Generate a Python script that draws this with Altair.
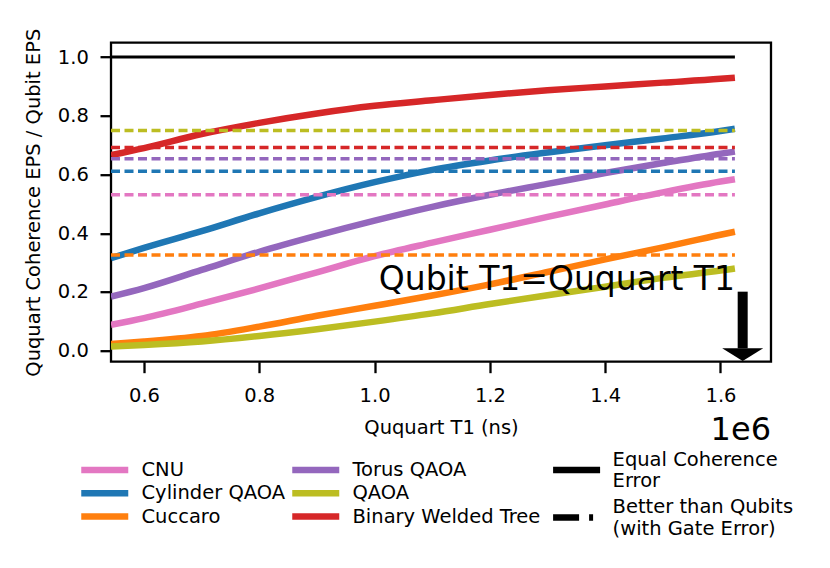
import altair as alt
import pandas as pd

# ---------------- data ----------------
# Ququart T1 sample points, in units of 1e6 ns
t1_points = [0.5428, 0.6, 0.7, 0.8, 0.9, 1.0, 1.1, 1.2, 1.3, 1.4, 1.5, 1.6, 1.625]

series_names = ["CNU", "Cylinder QAOA", "Cuccaro", "Torus QAOA", "QAOA", "Binary Welded Tree"]
series_colors = ["#e377c2", "#1f77b4", "#ff7f0e", "#9467bd", "#bcbd22", "#d62728"]
cnu = [0.088, 0.111, 0.160, 0.212, 0.267, 0.322, 0.368, 0.412, 0.456, 0.498, 0.539, 0.576, 0.584]
cylinder = [0.315, 0.350, 0.407, 0.468, 0.524, 0.574, 0.616, 0.648, 0.675, 0.700, 0.723, 0.748, 0.756]
cuccaro = [0.023, 0.031, 0.050, 0.082, 0.119, 0.153, 0.188, 0.226, 0.268, 0.311, 0.352, 0.395, 0.405]
torus = [0.184, 0.213, 0.275, 0.337, 0.392, 0.443, 0.490, 0.531, 0.568, 0.605, 0.639, 0.671, 0.678]
qaoa = [0.014, 0.019, 0.031, 0.050, 0.073, 0.099, 0.127, 0.159, 0.189, 0.218, 0.248, 0.273, 0.280]
bwt = [0.666, 0.690, 0.738, 0.776, 0.808, 0.834, 0.853, 0.871, 0.887, 0.900, 0.913, 0.926, 0.930]
series_values = [cnu, cylinder, cuccaro, torus, qaoa, bwt]

# "Better than Qubits (with Gate Error)" thresholds (dashed lines)
gate_thresholds = [0.531, 0.611, 0.326, 0.654, 0.750, 0.692]

equal_level = 1.0
ref_kinds = ["Equal Coherence Error", "Better than Qubits (with Gate Error)"]

x_ticks = [0.6, 0.8, 1.0, 1.2, 1.4, 1.6]
y_ticks = [0.0, 0.2, 0.4, 0.6, 0.8, 1.0]
x_domain = [0.5428, 1.6876]
y_domain = [-0.0375, 1.049]

annotation_text = "Qubit T1=Ququart T1"
annotation_pos = (1.6252, 0.207)
arrow_x = 1.6385
arrow_top = 0.201
arrow_shaft_end = 0.008
arrow_head_y = -0.0136
offset_text = "1e6"

SCALE = 1e6
FONT = "DejaVu Sans"
FS = 19.5

# ---------------- tables ----------------
curve_rows = []
for name, vals in zip(series_names, series_values):
    for x, v in zip(t1_points, vals):
        curve_rows.append({"t1": x * SCALE, "ratio": v, "series": name})
curves_df = pd.DataFrame(curve_rows)

dash_df = pd.DataFrame({
    "series": series_names,
    "ratio": gate_thresholds,
    "x0": [t1_points[0] * SCALE] * len(series_names),
    "x1": [t1_points[-1] * SCALE] * len(series_names),
})

equal_df = pd.DataFrame({
    "kind": [ref_kinds[0]],
    "ratio": [equal_level],
    "x0": [t1_points[0] * SCALE],
    "x1": [t1_points[-1] * SCALE],
})

ann_df = pd.DataFrame({"t1": [annotation_pos[0] * SCALE], "ratio": [annotation_pos[1]],
                       "label": [annotation_text]})
arrow_df = pd.DataFrame({"t1": [arrow_x * SCALE], "top": [arrow_top], "end": [arrow_shaft_end],
                         "head": [arrow_head_y]})
offset_df = pd.DataFrame({"t1": [x_domain[1] * SCALE], "ratio": [y_domain[0]], "label": [offset_text]})

# ---------------- scales / axes ----------------
x_scale = alt.Scale(domain=[x_domain[0] * SCALE, x_domain[1] * SCALE], nice=False, zero=False)
y_scale = alt.Scale(domain=y_domain, nice=False, zero=False)

x_axis = alt.Axis(
    values=[v * SCALE for v in x_ticks],
    labelExpr="format(datum.value / 1000000, '.1f')",
    title="Ququart T1 (ns)",
    labelPadding=13.5,
    titleBaseline="alphabetic",
    titleY=72.3,
    titleX=330,
    titleAlign="center",
)
y_axis = alt.Axis(
    values=y_ticks,
    format=".1f",
    title="Ququart Coherence EPS / Qubit EPS",
    labelPadding=11.7,
    titleAngle=270,
    titleBaseline="alphabetic",
    titleAlign="center",
    titleX=-72,
    titleY=159.5,
)

color_scale = alt.Scale(domain=series_names, range=series_colors)

curves = alt.Chart(curves_df).mark_line(strokeWidth=6.5, clip=True, interpolate="monotone").encode(
    x=alt.X("t1:Q", scale=x_scale, axis=x_axis),
    y=alt.Y("ratio:Q", scale=y_scale, axis=y_axis),
    color=alt.Color(
        "series:N",
        scale=color_scale,
        sort=series_names,
        legend=alt.Legend(
            title=None,
            orient="none",
            legendX=-33.25,
            legendY=417.3,
            columns=2,
            columnPadding=3,
            rowPadding=3.3,
            clipHeight=20,
            padding=0,
            symbolType="stroke",
            symbolSize=2209,
            symbolStrokeWidth=6.5,
            labelOffset=9.75,
            labelFont=FONT,
            labelFontSize=FS,
            labelColor="black",
            labelLimit=0,
        ),
    ),
)

dashes = alt.Chart(dash_df).mark_rule(strokeWidth=3.5, strokeDash=[9, 4.5]).encode(
    x="x0:Q",
    x2="x1:Q",
    y="ratio:Q",
    color=alt.Color("series:N", scale=color_scale, legend=None),
)

equal_line = alt.Chart(equal_df).mark_rule(color="black").encode(
    x="x0:Q",
    x2="x1:Q",
    y="ratio:Q",
    strokeWidth=alt.value(3),
    strokeDash=alt.StrokeDash(
        "kind:N",
        scale=alt.Scale(domain=ref_kinds, range=[[1, 0], [26, 10, 4, 10]]),
        legend=alt.Legend(
            title=None,
            orient="none",
            legendX=438.6,
            legendY=405.3,
            columns=1,
            rowPadding=3.5,
            clipHeight=44,
            padding=0,
            symbolType="stroke",
            symbolSize=2209,
            symbolStrokeWidth=6.5,
            symbolStrokeColor="black",
            labelOffset=9,
            labelBaseline="bottom",
            labelFont=FONT,
            labelFontSize=FS,
            labelColor="black",
            labelLimit=0,
            labelExpr="datum.value == 'Equal Coherence Error' ? ['Equal Coherence', 'Error'] : ['Better than Qubits', '(with Gate Error)']",
        ),
    ),
)

annotation = alt.Chart(ann_df).mark_text(
    align="right", baseline="alphabetic", font=FONT, fontSize=33, color="black"
).encode(x="t1:Q", y="ratio:Q", text="label:N")

arrow_shaft = alt.Chart(arrow_df).mark_rule(color="black", strokeWidth=10, strokeCap="butt").encode(
    x="t1:Q", y="top:Q", y2="end:Q"
)

arrow_head = alt.Chart(arrow_df).mark_point(
    shape="M-1,-0.31L1,-0.31L0,0.31Z", filled=True, color="black", opacity=1, size=1681, clip=False
).encode(x="t1:Q", y="head:Q")

offset_label = alt.Chart(offset_df).mark_text(
    align="right", baseline="alphabetic", font=FONT, fontSize=32, color="black", dy=78.3, clip=False
).encode(x="t1:Q", y="ratio:Q", text="label:N")

chart = alt.layer(
    curves, dashes, equal_line, annotation, arrow_shaft, arrow_head, offset_label
).properties(
    width=660,
    height=319,
    autosize=alt.AutoSizeParams(type="none"),
    padding={"left": 103, "top": 34.7, "right": 40, "bottom": 200},
    background="white",
).configure_view(
    stroke="black", strokeWidth=2.3
).configure_axis(
    domain=False,
    grid=False,
    tickColor="black",
    tickWidth=2.3,
    tickSize=11,
    labelFont=FONT,
    labelFontSize=FS,
    labelColor="black",
    titleFont=FONT,
    titleFontSize=FS,
    titleFontWeight="normal",
    titleColor="black",
).configure_text(font=FONT)

chart.save("out.html", embed_options={"renderer": "svg", "actions": False})
